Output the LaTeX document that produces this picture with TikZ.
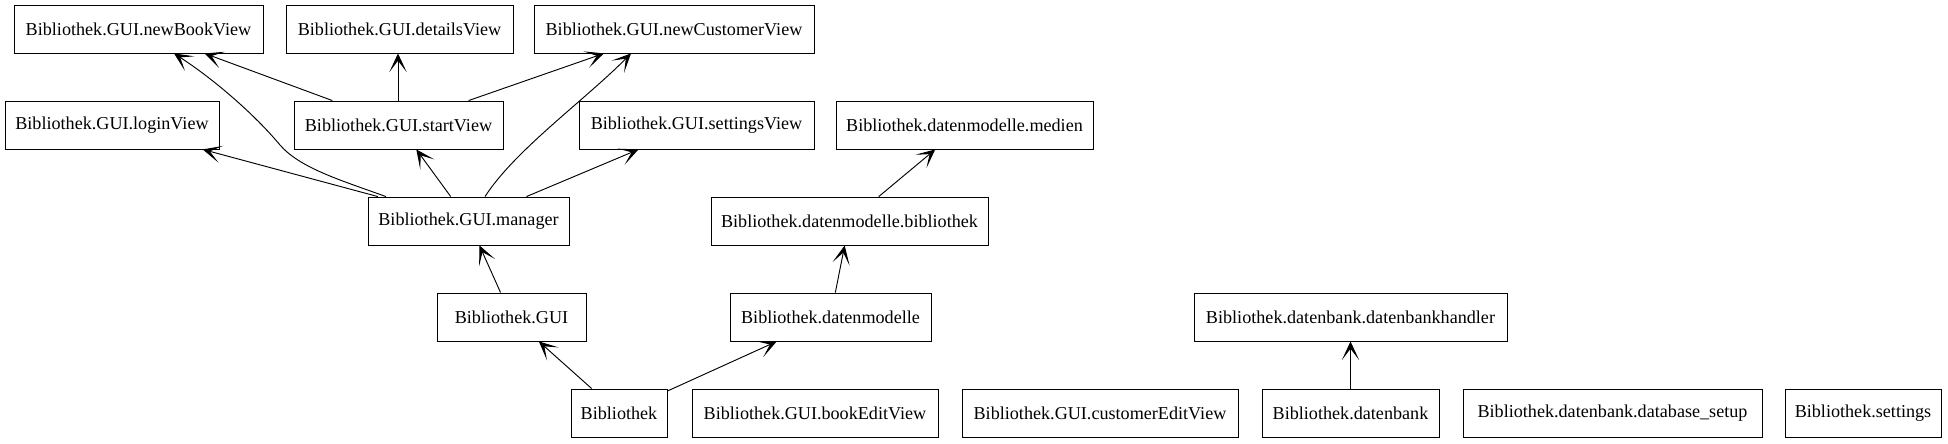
\documentclass[tikz,border=0pt]{standalone}
\usepackage{fontspec}
\setmainfont{Liberation Serif}
\usepackage{tikz}
\usetikzlibrary{arrows.meta,calc}
\tikzset{
  modbox/.style={draw,line width=0.65pt,rectangle,inner sep=0pt,
    minimum height=36pt,font=\fontsize{13.6}{16}\selectfont},
  dep/.style={line width=0.7pt,-{Stealth[length=14pt,width=13pt,inset=8.5pt]}}}
% name, left, right, centre y, text (all in px)
\newcommand{\pkgbox}[5]{%
  \node[modbox,minimum width={(#3-#2)*0.75pt}] (#1) at ({(#2+#3)/2},#4) {#5};}

\begin{document}
\begin{tikzpicture}[x=0.75pt,y=-0.75pt]
  \useasboundingbox (0,0) rectangle (1948,443);
  % row 1
  \pkgbox{newbook}{14}{263}{29}{Bibliothek.GUI.newBookView}
  \pkgbox{details}{286}{513}{29}{Bibliothek.GUI.detailsView}
  \pkgbox{newcustomer}{534}{814}{29}{Bibliothek.GUI.newCustomerView}
  % row 2
  \pkgbox{login}{5}{219}{125}{Bibliothek.GUI.loginView}
  \pkgbox{startview}{294}{503}{125}{Bibliothek.GUI.startView}
  \pkgbox{settingsview}{579}{814}{125}{Bibliothek.GUI.settingsView}
  \pkgbox{medien}{836}{1093}{125}{Bibliothek.datenmodelle.medien}
  % row 3
  \pkgbox{manager}{368}{569}{221}{Bibliothek.GUI.manager}
  \pkgbox{dmbib}{711}{988}{221}{Bibliothek.datenmodelle.bibliothek}
  % row 4
  \pkgbox{gui}{437}{586}{317}{Bibliothek.GUI}
  \pkgbox{datenmodelle}{730}{931}{317}{Bibliothek.datenmodelle}
  \pkgbox{handler}{1194}{1507}{317}{Bibliothek.datenbank.datenbankhandler}
  % row 5
  \pkgbox{bib}{571}{667}{413}{Bibliothek}
  \pkgbox{bookedit}{692}{938}{413}{Bibliothek.GUI.bookEditView}
  \pkgbox{customeredit}{962}{1238}{413}{Bibliothek.GUI.customerEditView}
  \pkgbox{datenbank}{1262}{1439}{413}{Bibliothek.datenbank}
  \pkgbox{dbsetup}{1463}{1762}{413}{Bibliothek.datenbank.database\_setup}
  \pkgbox{settings}{1785}{1941}{413}{Bibliothek.settings}

  \draw[dep] (startview) -- (newbook);
  \draw[dep] ($(startview.north)+(-0.5,0)$) -- ($(details.south)+(-1.5,0)$);
  \draw[dep] (startview) -- (newcustomer);
  \draw[dep] (manager) -- (login);
  \draw[dep] (manager) -- (startview);
  \draw[dep] (manager) -- (settingsview);
  \draw[dep] ($(manager.north)+(-82.5,0)$) .. controls (340,180) and (300,168)
    .. (280,145) .. controls (255,115) and (215,80) .. ($(newbook.south)+(35.5,0)$);
  \draw[dep] ($(manager.north)+(16.5,0)$) .. controls (515,150) and (585,100)
    .. ($(newcustomer.south)+(-43,0)$);
  \draw[dep] (gui) -- (manager);
  \draw[dep] (bib) -- (gui);
  \draw[dep] (bib) -- (datenmodelle);
  \draw[dep] (datenmodelle) -- (dmbib);
  \draw[dep] (dmbib) -- (medien);
  \draw[dep] (datenbank) -- (handler);
\end{tikzpicture}
\end{document}
